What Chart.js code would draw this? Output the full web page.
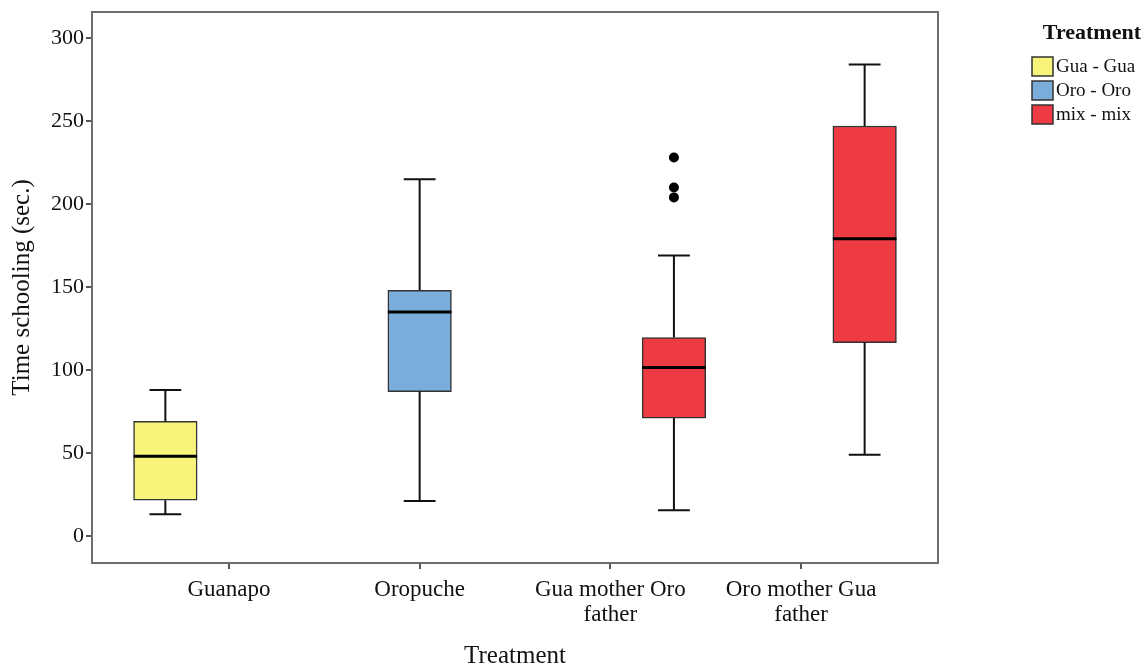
<!DOCTYPE html>
<html lang="en">
<head>
<meta charset="UTF-8">
<title>Time schooling by treatment</title>
<script src="https://cdn.jsdelivr.net/npm/chart.js"></script>
<style>
    html, body { margin: 0; padding: 0; background: #fff; }
    .chart-container { position: relative; width: 1146px; height: 671px; }
</style>
</head>
<body>
<div class="chart-container"><canvas id="boxChart" width="1146" height="671"></canvas></div>
<script>
    // x categories (multi-line labels as arrays)
    const categories = ['Guanapo', 'Oropuche', ['Gua mother Oro', 'father'], ['Oro mother Gua', 'father']];
    const groupNames = ['Gua - Gua', 'Oro - Oro', 'mix - mix'];
    const groupColors = ['#f7f37b', '#7badda', '#ee3a43'];
    // category index that each group's boxes sit on
    const groupCategory = [[0], [1], [2, 3]];
    // five-number summaries per box: [min, q1, median, q3, max]
    const guaGuaStats = [[13, 21.5, 48, 69, 88]];
    const oroOroStats = [[21, 87, 135, 148, 215]];
    const mixMixStats = [[15.5, 71, 101.5, 119.5, 169], [49, 116.5, 179, 247, 284]];
    const groupOutliers = [[[]], [[]], [[204, 210, 228], []]];
    const yTicks = [0, 50, 100, 150, 200, 250, 300];

    const serif = '"Liberation Serif", "DejaVu Serif", serif';
    const allStats = [guaGuaStats, oroOroStats, mixMixStats];

    const datasets = groupNames.map((name, g) => ({
        label: name,
        backgroundColor: groupColors[g],
        borderColor: '#333',
        borderWidth: 1.5,
        borderSkipped: false,
        barPercentage: 1,
        categoryPercentage: 1,
        data: groupCategory[g].map((c, i) => ({
            x: c,
            y: [allStats[g][i][1], allStats[g][i][3]],
            stats: allStats[g][i],
            out: groupOutliers[g][i]
        }))
    }));

    // whiskers, caps, medians and outliers drawn from the bar elements
    const boxplotPlugin = {
        id: 'boxplot',
        afterDatasetsDraw(chart) {
            const ctx = chart.ctx;
            const y = chart.scales.y;
            ctx.save();
            chart.data.datasets.forEach((ds, d) => {
                const meta = chart.getDatasetMeta(d);
                meta.data.forEach((bar, i) => {
                    const s = ds.data[i].stats;
                    const cx = bar.x;
                    const half = bar.width / 2;
                    const capHalf = half / 2;
                    ctx.strokeStyle = '#111';
                    ctx.lineWidth = 2;
                    ctx.beginPath();
                    ctx.moveTo(cx, y.getPixelForValue(s[3]));
                    ctx.lineTo(cx, y.getPixelForValue(s[4]));
                    ctx.moveTo(cx, y.getPixelForValue(s[1]));
                    ctx.lineTo(cx, y.getPixelForValue(s[0]));
                    ctx.moveTo(cx - capHalf, y.getPixelForValue(s[4]));
                    ctx.lineTo(cx + capHalf, y.getPixelForValue(s[4]));
                    ctx.moveTo(cx - capHalf, y.getPixelForValue(s[0]));
                    ctx.lineTo(cx + capHalf, y.getPixelForValue(s[0]));
                    ctx.stroke();
                    ctx.lineWidth = 3;
                    ctx.strokeStyle = '#000';
                    ctx.beginPath();
                    ctx.moveTo(cx - half, y.getPixelForValue(s[2]));
                    ctx.lineTo(cx + half, y.getPixelForValue(s[2]));
                    ctx.stroke();
                    ctx.fillStyle = '#000';
                    (ds.data[i].out || []).forEach(v => {
                        ctx.beginPath();
                        ctx.arc(cx, y.getPixelForValue(v), 5, 0, Math.PI * 2);
                        ctx.fill();
                    });
                });
            });
            ctx.restore();
        },
        afterDraw(chart) {
            const ctx = chart.ctx;
            const a = chart.chartArea;
            ctx.save();
            ctx.strokeStyle = '#6e6e6e';
            ctx.lineWidth = 2;
            ctx.strokeRect(a.left, a.top, a.right - a.left, a.bottom - a.top);

            // legend
            ctx.fillStyle = '#111';
            ctx.font = 'bold 22px ' + serif;
            ctx.textAlign = 'right';
            ctx.textBaseline = 'middle';
            ctx.fillText('Treatment', 1141, 33);
            ctx.font = '19px ' + serif;
            ctx.textAlign = 'left';
            groupNames.forEach((name, g) => {
                const top = 57 + g * 24;
                ctx.fillStyle = groupColors[g];
                ctx.fillRect(1032, top, 21, 19);
                ctx.strokeStyle = '#333';
                ctx.lineWidth = 1.5;
                ctx.strokeRect(1032, top, 21, 19);
                ctx.fillStyle = '#111';
                ctx.fillText(name, 1056, top + 10);
            });
            ctx.restore();
        }
    };

    new Chart(document.getElementById('boxChart'), {
        type: 'bar',
        data: { datasets: datasets },
        options: {
            responsive: false,
            animation: false,
            devicePixelRatio: 1,
            layout: { padding: { top: 12, right: 208, left: 0, bottom: 0 } },
            plugins: {
                legend: { display: false },
                tooltip: { enabled: false }
            },
            scales: {
                x: {
                    type: 'linear',
                    offset: false,
                    min: -0.718,
                    max: 3.718,
                    afterBuildTicks: scale => { scale.ticks = categories.map((c, i) => ({ value: i })); },
                    afterFit: scale => { scale.height = 108; },
                    border: { display: false },
                    grid: { offset: false, drawOnChartArea: false, drawTicks: true, tickLength: 6, color: '#555', lineWidth: 2 },
                    ticks: {
                        callback: v => categories[v],
                        maxRotation: 0,
                        autoSkip: false,
                        padding: 8,
                        color: '#111',
                        font: { family: serif, size: 23, lineHeight: 1.09 }
                    },
                    title: {
                        display: true,
                        text: 'Treatment',
                        color: '#111',
                        padding: { bottom: 0 },
                        font: { family: serif, size: 25, lineHeight: 1.2 }
                    }
                },
                y: {
                    min: -16.3,
                    max: 315.7,
                    afterBuildTicks: scale => { scale.ticks = yTicks.map(v => ({ value: v })); },
                    afterFit: scale => { scale.width = 92; scale.paddingTop = 0; },
                    border: { display: false },
                    grid: { drawOnChartArea: false, drawTicks: true, tickLength: 6, color: '#555', lineWidth: 2 },
                    ticks: {
                        padding: 2,
                        color: '#111',
                        font: { family: serif, size: 22 }
                    },
                    title: {
                        display: true,
                        text: 'Time schooling (sec.)',
                        color: '#111',
                        padding: { top: 7 },
                        font: { family: serif, size: 25, lineHeight: 1.2 }
                    }
                }
            }
        },
        plugins: [boxplotPlugin]
    });
</script>
</body>
</html>
